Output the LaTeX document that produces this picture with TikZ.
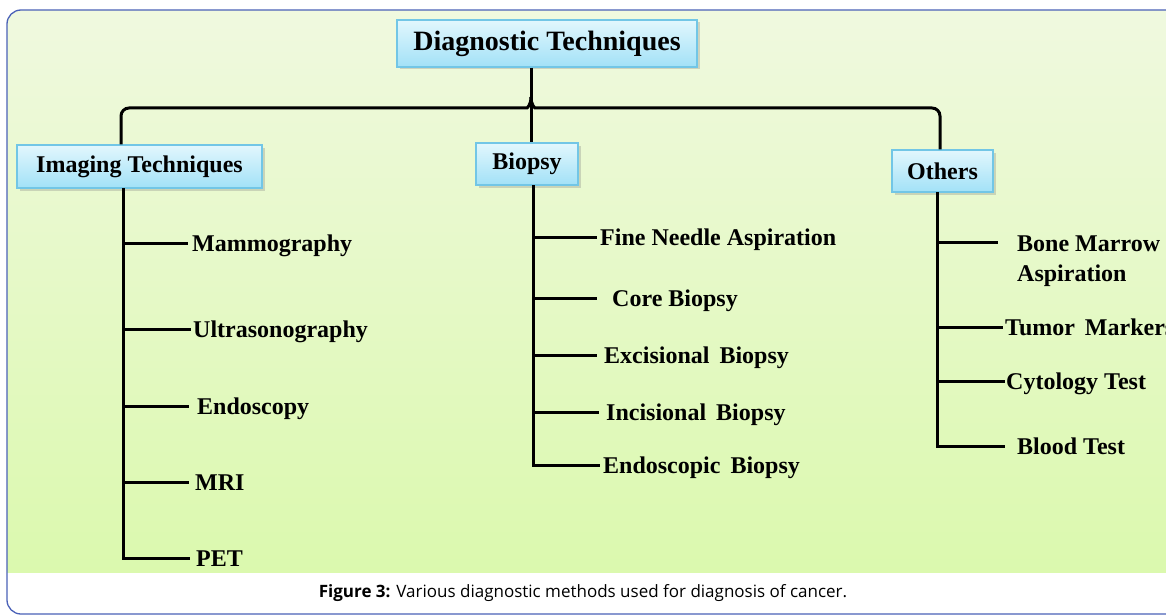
\documentclass[tikz,border=0pt]{standalone}
\usepackage{fontspec}
\setmainfont{Liberation Serif}
\newfontfamily\capfont{Open Sans}
\usetikzlibrary{shadows,calc}
\definecolor{framecol}{HTML}{4B62B8}
\definecolor{greentop}{HTML}{F0F9E0}
\definecolor{greenbot}{HTML}{DBF9AE}
\definecolor{boxtop}{HTML}{E2F7FD}
\definecolor{boxbot}{HTML}{A2E1F7}
\definecolor{boxline}{HTML}{72C6E6}
\begin{document}
\begin{tikzpicture}[x=1pt,y=-1pt,
  conn/.style={line width=3pt, black},
  box/.style={draw=boxline, line width=1.2pt, top color=boxtop, bottom color=boxbot,
    inner sep=0pt, font=\fontsize{24}{28}\selectfont\bfseries,
    drop shadow={shadow xshift=2.5pt, shadow yshift=-2.5pt, opacity=0.3}},
  item/.style={anchor=base west, inner sep=0pt, font=\fontsize{24}{30}\selectfont\bfseries}]
\useasboundingbox (0,0) rectangle (1166,615);
\fill[white] (0,0) rectangle (1166,615);
\begin{scope}
  \clip[rounded corners=14pt] (7,10) rectangle (1185,614);
  \shade[top color=greentop, bottom color=greenbot] (0,0) rectangle (1190,572);
\end{scope}
\draw[framecol, line width=1.3pt, rounded corners=14pt] (7,10) rectangle (1185,614);

% main boxes
\node[box, minimum width=300pt, minimum height=47pt, font=\fontsize{28}{32}\selectfont\bfseries] (title) at (547,43.5) {Diagnostic Techniques};
\node[box, minimum width=245pt, minimum height=43pt] (img) at (139.5,166.5) {Imaging Techniques};
\node[box, minimum width=102pt, minimum height=42pt] (bio) at (527,164) {Biopsy};
\node[box, minimum width=101pt, minimum height=42pt] (oth) at (942.5,171) {Others};

% top connectors
\coordinate (j) at (531,97);
\coordinate (lc) at (121,108);
\coordinate (rc) at (940,108);
\draw[conn] (title.south -| j) -- (bio.north -| j);
\draw[conn, rounded corners=8pt] (j) .. controls (531,105) and (527,108) .. (519,108) -- (lc) -- (lc |- img.north);
\draw[conn, rounded corners=8pt] (j) .. controls (531,105) and (535,108) .. (543,108) -- (rc) -- (rc |- oth.north);

% imaging items
\coordinate (iv) at (123,188);
\node[item] (mam) at (192,251) {Mammography};
\node[item] (ult) at (193,337) {Ultrasonography};
\node[item] (endo) at (197,414) {Endoscopy};
\node[item] (mri) at (195,490) {MRI};
\node[item] (pet) at (196,566) {PET};
\draw[conn] ($(iv |- mam.base west)+(0,-8)$) -- ($(mam.base west)+(-4,-8)$);
\draw[conn] ($(iv |- ult.base west)+(0,-8)$) -- ($(ult.base west)+(-2,-8)$);
\draw[conn] ($(iv |- endo.base west)+(0,-8)$) -- ($(endo.base west)+(-8,-8)$);
\draw[conn] ($(iv |- mri.base west)+(0,-8)$) -- ($(mri.base west)+(-6,-8)$);
\draw[conn] (iv) -- ($(iv |- pet.base west)+(0,-8)$) -- ($(pet.base west)+(-6,-8)$);

% biopsy items
\coordinate (bv) at (533,185);
\node[item] (fna) at (600,245) {Fine Needle Aspiration};
\node[item] (core) at (612,306) {Core Biopsy};
\node[item] (exc) at (604,363) {Excisional\, Biopsy};
\node[item] (inc) at (606,420) {Incisional\, Biopsy};
\node[item] (endb) at (603,473) {Endoscopic\, Biopsy};
\draw[conn] ($(bv |- fna.base west)+(0,-8)$) -- ($(fna.base west)+(-3,-8)$);
\draw[conn] ($(bv |- core.base west)+(0,-8)$) -- ($(core.base west)+(-15,-8)$);
\draw[conn] ($(bv |- exc.base west)+(0,-8)$) -- ($(exc.base west)+(-7,-8)$);
\draw[conn] ($(bv |- inc.base west)+(0,-8)$) -- ($(inc.base west)+(-7,-8)$);
\draw[conn] (bv) -- ($(bv |- endb.base west)+(0,-8)$) -- ($(endb.base west)+(-3,-8)$);

% others items
\coordinate (ov) at (937,192);
\node[item, anchor=north west, align=left] (bm) at (1017,236) {Bone Marrow\\Aspiration};
\node[item] (tum) at (1005,335) {Tumor\, Markers};
\node[item] (cyt) at (1006,389) {Cytology Test};
\node[item] (blood) at (1017,454) {Blood Test};
\draw[conn] ($(ov |- bm.north west)+(0,6)$) -- ($(bm.north west)+(-19,6)$);
\draw[conn] ($(ov |- tum.base west)+(0,-8)$) -- ($(tum.base west)+(-2,-8)$);
\draw[conn] ($(ov |- cyt.base west)+(0,-8)$) -- ($(cyt.base west)+(-1,-8)$);
\draw[conn] (ov) -- ($(ov |- blood.base west)+(0,-8)$) -- ($(blood.base west)+(-12,-8)$);

% caption
\node[font=\capfont\fontsize{17}{20}\selectfont] (cap) at (583,593) {\textbf{Figure 3:} Various diagnostic methods used for diagnosis of cancer.};
\end{tikzpicture}
\end{document}
